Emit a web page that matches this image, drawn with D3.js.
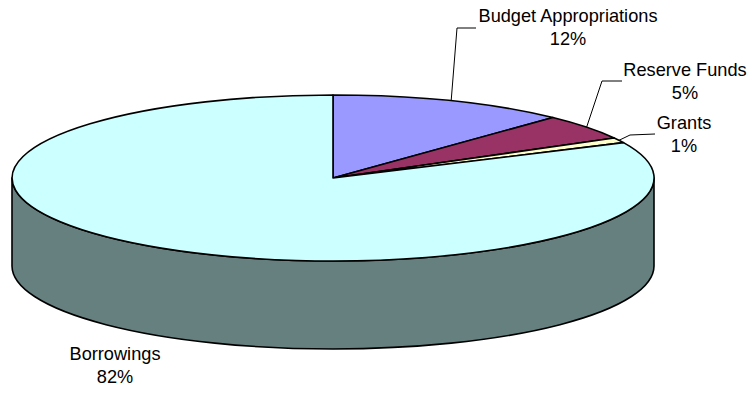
<!DOCTYPE html>
<html>
<head>
<meta charset="utf-8">
<script src="https://cdn.jsdelivr.net/npm/d3@7"></script>
<style>
html,body{margin:0;padding:0;background:#fff}
svg{display:block}
text{font-family:"Liberation Sans",Arial,sans-serif;font-size:18.2px;fill:#000}
</style>
</head>
<body>
<svg id="chart" width="752" height="394"></svg>
<script>
// Funding sources, clockwise from twelve o'clock
const categories = ["Budget Appropriations", "Reserve Funds", "Grants", "Borrowings"];
const shares = [12, 5, 1, 82];
const topColors = ["#9999ff", "#993366", "#ffffcc", "#ccffff"];
const wallColor = "#667f7f";

// Disc geometry
const cx = 333, cy = 178, rx = 321, ry = 83, depth = 88;

// Label centres and leader elbows
const labelX = [568, 685, 684, 115];
const labelY = [22, 76, 129, 360];
const leaderElbows = [
  [[457, 28], [476, 28]],
  [[602, 81], [622, 81]],
  [[630, 135], [655, 134]],
  null
];

const svg = d3.select("#chart");
const slices = d3.pie().sort(null).value(d => d)(shares);

// Side wall: the lower half of the rim pushed down by the disc depth
svg.append("path")
  .attr("d", `M${cx - rx},${cy} L${cx - rx},${cy + depth}` +
             `A${rx},${ry} 0 0 0 ${cx + rx},${cy + depth} L${cx + rx},${cy}` +
             `A${rx},${ry} 0 0 1 ${cx - rx},${cy} Z`)
  .attr("fill", wallColor)
  .attr("stroke", "#000")
  .attr("stroke-width", 1.6)
  .attr("stroke-linejoin", "round");

// Top face: unit-radius wedges squashed into the ellipse
const wedge = d3.arc().innerRadius(0).outerRadius(1);
svg.append("g")
  .attr("transform", `translate(${cx},${cy}) scale(${rx},${ry})`)
  .selectAll("path")
  .data(slices)
  .join("path")
  .attr("d", wedge)
  .attr("fill", (d, i) => topColors[i])
  .attr("stroke", "#000")
  .attr("stroke-width", 1.6)
  .attr("stroke-linejoin", "round")
  .attr("vector-effect", "non-scaling-stroke");

// Point on the rim at a slice's middle angle
const rimPoint = d => {
  const a = (d.startAngle + d.endAngle) / 2;
  return [cx + rx * Math.sin(a), cy - ry * Math.cos(a)];
};

// Leader lines run from the rim out to each label
const leader = d3.line();
svg.append("g")
  .selectAll("path")
  .data(slices.filter((d, i) => leaderElbows[i]))
  .join("path")
  .attr("d", d => leader([rimPoint(d), ...leaderElbows[d.index]]))
  .attr("fill", "none")
  .attr("stroke", "#000")
  .attr("stroke-width", 1);

// Two-line labels: category name over percentage
const labels = svg.append("g")
  .selectAll("text")
  .data(categories)
  .join("text")
  .attr("text-anchor", "middle")
  .attr("x", (d, i) => labelX[i])
  .attr("y", (d, i) => labelY[i]);
labels.append("tspan").text(d => d);
labels.append("tspan")
  .attr("x", (d, i) => labelX[i])
  .attr("dy", 23)
  .text((d, i) => shares[i] + "%");
</script>
</body>
</html>
